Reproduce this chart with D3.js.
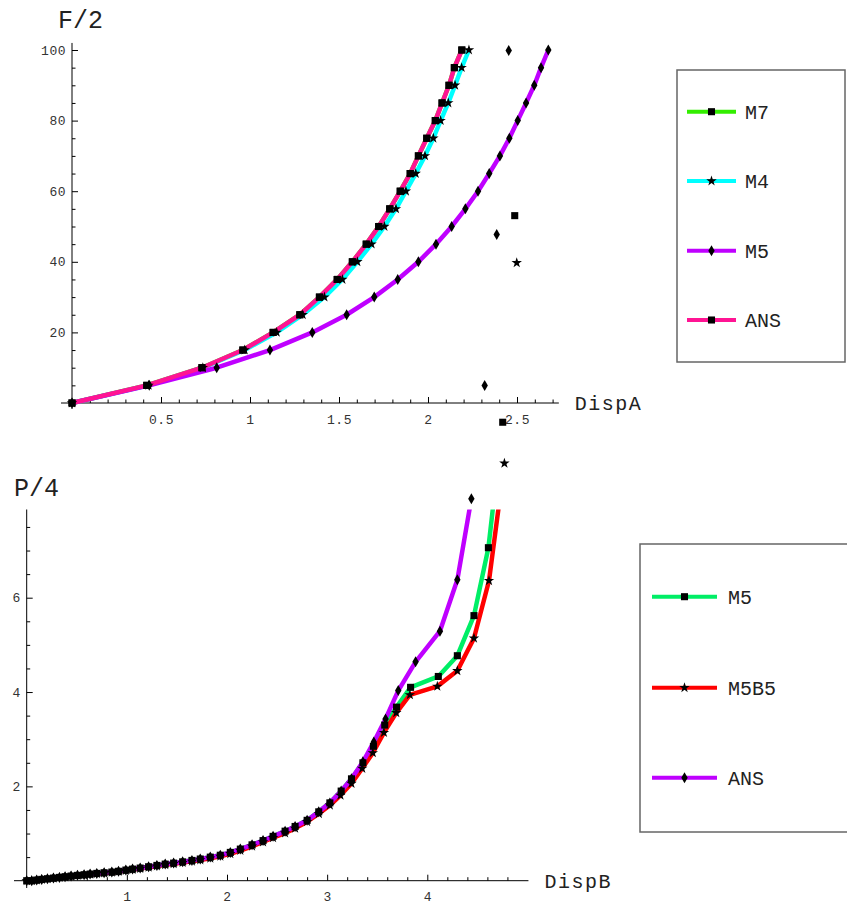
<!DOCTYPE html>
<meta charset="utf-8">
<style>
body { margin: 0; background: #fff; }
text { font-family: "Liberation Mono", "DejaVu Sans Mono", monospace; fill: #222; }
.axis text { font-size: 13px; fill: #333; letter-spacing: 0.5px; }
.axis line { stroke: #000; }
.axis-line { stroke: #000; stroke-width: 1; }
.series { fill: none; stroke-width: 4.5; stroke-linejoin: round; }
.legend-box { fill: none; stroke: #666; stroke-width: 1.5; }
.legend-line { stroke-width: 4; }
.legend text { font-size: 20px; }
.title { font-size: 25px; }
.xlabel { font-size: 20px; letter-spacing: 1.5px; }
</style>
<body>
<div id="chart"></div>
<script src="https://d3js.org/d3.v7.min.js"></script>
<script>

// ---- top chart: F/2 against DispA ----
var loadA = [0, 5, 10, 15, 20, 25, 30, 35, 40, 45, 50, 55, 60, 65, 70, 75, 80, 85, 90, 95, 100];
var dispA_M7  = [0, 0.42, 0.73, 0.96, 1.13, 1.28, 1.39, 1.49, 1.575, 1.653, 1.723, 1.785, 1.844, 1.90, 1.946, 1.993, 2.041, 2.079, 2.118, 2.148, 2.19];
var dispA_M4  = [0, 0.43, 0.735, 0.97, 1.15, 1.296, 1.418, 1.519, 1.603, 1.683, 1.755, 1.82, 1.876, 1.931, 1.983, 2.03, 2.071, 2.114, 2.152, 2.189, 2.23];
var dispA_M5  = [0, 0.434, 0.813, 1.112, 1.35, 1.543, 1.698, 1.83, 1.946, 2.045, 2.133, 2.21, 2.281, 2.344, 2.404, 2.457, 2.504, 2.551, 2.597, 2.635, 2.676];
var dispA_ANS = [0, 0.42, 0.73, 0.96, 1.13, 1.28, 1.39, 1.49, 1.575, 1.653, 1.723, 1.785, 1.844, 1.90, 1.946, 1.993, 2.041, 2.079, 2.118, 2.148, 2.19];

var ticksA_x = [0.5, 1, 1.5, 2, 2.5];
var ticksA_y = [20, 40, 60, 80, 100];

// ---- bottom chart: P/4 against DispB ----
var dispB_M5 = [0, 0.05, 0.10, 0.15, 0.207, 0.267, 0.327, 0.383, 0.443, 0.507, 0.573, 0.633, 0.70, 0.773, 0.85, 0.917, 0.99, 1.057, 1.133, 1.217, 1.30, 1.383, 1.467, 1.557, 1.65, 1.733, 1.833, 1.933, 2.033, 2.133, 2.25, 2.36, 2.46, 2.58, 2.68, 2.80, 2.916, 3.027, 3.14, 3.243, 3.357, 3.462, 3.575, 3.693, 3.833, 4.11, 4.30, 4.466, 4.61, 4.753, 4.873];
var loadB_M5 = [0, 0, 0.014, 0.028, 0.042, 0.056, 0.07, 0.085, 0.099, 0.113, 0.127, 0.141, 0.155, 0.169, 0.183, 0.2, 0.225, 0.246, 0.268, 0.296, 0.324, 0.352, 0.373, 0.4, 0.43, 0.46, 0.5, 0.54, 0.6, 0.67, 0.76, 0.85, 0.94, 1.05, 1.15, 1.28, 1.46, 1.65, 1.90, 2.16, 2.5, 2.85, 3.3, 3.68, 4.10, 4.33, 4.77, 5.62, 7.06, 9.72, 14.1];
var dispB_M5B5 = [0, 0.05, 0.10, 0.15, 0.207, 0.267, 0.327, 0.383, 0.443, 0.507, 0.573, 0.633, 0.70, 0.773, 0.85, 0.917, 0.99, 1.057, 1.133, 1.217, 1.30, 1.383, 1.467, 1.557, 1.65, 1.733, 1.833, 1.933, 2.033, 2.133, 2.25, 2.36, 2.46, 2.58, 2.68, 2.80, 2.917, 3.027, 3.133, 3.243, 3.35, 3.456, 3.567, 3.69, 3.826, 4.10, 4.30, 4.466, 4.616, 4.77, 4.893];
var loadB_M5B5 = [0, 0, 0.012, 0.025, 0.038, 0.052, 0.066, 0.08, 0.094, 0.108, 0.12, 0.134, 0.148, 0.162, 0.176, 0.192, 0.215, 0.236, 0.257, 0.284, 0.31, 0.337, 0.358, 0.383, 0.41, 0.44, 0.475, 0.515, 0.57, 0.64, 0.73, 0.82, 0.91, 1.01, 1.11, 1.25, 1.42, 1.60, 1.81, 2.06, 2.38, 2.71, 3.14, 3.56, 3.94, 4.12, 4.45, 5.14, 6.36, 8.85, 13.1];
var dispB_ANS = [0, 0.05, 0.10, 0.15, 0.207, 0.267, 0.327, 0.383, 0.443, 0.507, 0.573, 0.633, 0.70, 0.773, 0.85, 0.917, 0.99, 1.057, 1.133, 1.217, 1.30, 1.383, 1.467, 1.557, 1.65, 1.733, 1.833, 1.933, 2.033, 2.133, 2.25, 2.36, 2.46, 2.58, 2.68, 2.80, 2.916, 3.027, 3.14, 3.243, 3.357, 3.466, 3.583, 3.71, 3.883, 4.126, 4.30, 4.44, 4.573, 4.693, 4.813];
var loadB_ANS = [0, 0, 0.014, 0.028, 0.042, 0.056, 0.07, 0.085, 0.099, 0.113, 0.127, 0.141, 0.155, 0.169, 0.183, 0.2, 0.225, 0.246, 0.268, 0.296, 0.324, 0.352, 0.373, 0.4, 0.43, 0.46, 0.5, 0.54, 0.6, 0.67, 0.76, 0.85, 0.94, 1.05, 1.15, 1.28, 1.46, 1.65, 1.90, 2.16, 2.52, 2.94, 3.43, 4.03, 4.64, 5.29, 6.38, 8.10, 10.5, 13.7, 17.6];

var ticksB_x = [1, 2, 3, 4];
var ticksB_y = [2, 4, 6];

var W = 847, H = 904;
var svg = d3.select("#chart").append("svg").attr("width", W).attr("height", H);

// marker shapes
var sq = d3.symbol().type(d3.symbolSquare).size(50)();
var star = d3.symbol().type(d3.symbolStar).size(34)();
var diamond = "M0,-5.5L3.2,0L0,5.5L-3.2,0Z";

var plain = function(d) { return String(d); };

function zip(xs, ys) { return xs.map(function(v, i) { return [v, ys[i]]; }); }

function drawChart(cfg) {
  var g = svg.append("g");
  var x = cfg.x, y = cfg.y;

  // axis lines
  g.append("line").attr("class", "axis-line")
    .attr("x1", cfg.xAxisFrom).attr("x2", x(cfg.xEnd))
    .attr("y1", y(0)).attr("y2", y(0));
  g.append("line").attr("class", "axis-line")
    .attr("x1", x(0)).attr("x2", x(0))
    .attr("y1", cfg.yAxisFrom).attr("y2", y(cfg.yEnd));

  // minor ticks
  g.append("g").attr("class", "axis")
    .attr("transform", "translate(0," + y(0) + ")")
    .call(d3.axisBottom(x).tickValues(cfg.minorX).tickSize(-3.5).tickFormat(""))
    .call(function(s) { s.select(".domain").remove(); });
  g.append("g").attr("class", "axis")
    .attr("transform", "translate(" + x(0) + ",0)")
    .call(d3.axisLeft(y).tickValues(cfg.minorY).tickSize(-3.5).tickFormat(""))
    .call(function(s) { s.select(".domain").remove(); });

  // major ticks with labels
  g.append("g").attr("class", "axis")
    .attr("transform", "translate(0," + y(0) + ")")
    .call(d3.axisBottom(x).tickValues(cfg.ticksX).tickSize(-6).tickPadding(cfg.padX).tickFormat(plain))
    .call(function(s) { s.select(".domain").remove(); });
  g.append("g").attr("class", "axis")
    .attr("transform", "translate(" + x(0) + ",0)")
    .call(d3.axisLeft(y).tickValues(cfg.ticksY).tickSize(-6).tickPadding(6).tickFormat(plain))
    .call(function(s) { s.select(".domain").remove(); });

  // clip for lines
  var clipId = cfg.id + "-clip";
  svg.append("clipPath").attr("id", clipId).append("rect")
    .attr("x", 0).attr("y", y(cfg.yEnd))
    .attr("width", W).attr("height", H);

  var line = d3.line().x(function(d) { return x(d[0]); }).y(function(d) { return y(d[1]); });

  cfg.series.forEach(function(s) {
    g.append("path").attr("class", "series")
      .attr("clip-path", "url(#" + clipId + ")")
      .attr("stroke", s.color)
      .attr("d", line(s.pts));
  });
  cfg.series.forEach(function(s) {
    g.selectAll(null).data(s.pts).enter().append("path")
      .attr("d", s.shape).attr("fill", "#000")
      .attr("transform", function(d) { return "translate(" + x(d[0]) + "," + y(d[1]) + ")"; });
  });

  // axis titles
  g.append("text").attr("class", "title").attr("x", cfg.titlePos[0]).attr("y", cfg.titlePos[1]).text(cfg.title);
  g.append("text").attr("class", "xlabel").attr("x", x(cfg.xEnd) + cfg.xlabelGap).attr("y", y(0) + 7).text(cfg.xlabel);

  // legend
  var lg = svg.append("g").attr("class", "legend");
  lg.append("rect").attr("class", "legend-box")
    .attr("x", cfg.legend.x).attr("y", cfg.legend.y)
    .attr("width", cfg.legend.w).attr("height", cfg.legend.h);
  cfg.series.forEach(function(s, i) {
    var ly = cfg.legend.rows[i];
    lg.append("line").attr("class", "legend-line")
      .attr("x1", cfg.legend.lx).attr("x2", cfg.legend.lx + cfg.legend.len)
      .attr("y1", ly).attr("y2", ly).attr("stroke", s.color);
    lg.append("path").attr("d", s.shape).attr("fill", "#000")
      .attr("transform", "translate(" + (cfg.legend.lx + cfg.legend.len / 2) + "," + ly + ")");
    lg.append("text").attr("x", cfg.legend.tx).attr("y", ly).attr("dy", "0.35em").text(s.name);
  });
}

var xA = d3.scaleLinear().domain([0, 2.5]).range([72, 517]);
var yA = d3.scaleLinear().domain([0, 100]).range([403, 50]);

drawChart({
  id: "a", x: xA, y: yA, xEnd: 2.735, yEnd: 102,
  xAxisFrom: 61, yAxisFrom: 409,
  ticksX: ticksA_x, ticksY: ticksA_y, padX: 12,
  minorX: d3.range(1, 28).map(function(i) { return i / 10; }).filter(function(v) { return ticksA_x.indexOf(v) < 0; }),
  minorY: d3.range(1, 21).map(function(i) { return i * 5; }).filter(function(v) { return ticksA_y.indexOf(v) < 0; }),
  title: "F/2", titlePos: [58, 28],
  xlabel: "DispA", xlabelGap: 16,
  series: [
    { name: "M7",  color: "#33ee00", shape: sq,      pts: zip(dispA_M7, loadA) },
    { name: "M4",  color: "#00ffff", shape: star,    pts: zip(dispA_M4, loadA) },
    { name: "M5",  color: "#bf00ff", shape: diamond, pts: zip(dispA_M5, loadA) },
    { name: "ANS", color: "#ff1493", shape: sq,      pts: zip(dispA_ANS, loadA) }
  ],
  legend: { x: 677, y: 70, w: 168, h: 292, lx: 687, len: 49, tx: 745, rows: [111.7, 181, 250.7, 320] }
});

var xB = d3.scaleLinear().domain([0, 4]).range([26.7, 427.3]);
var yB = d3.scaleLinear().domain([0, 6]).range([880.7, 597.7]);

drawChart({
  id: "b", x: xB, y: yB, xEnd: 5.01, yEnd: 7.87,
  xAxisFrom: 14, yAxisFrom: 888,
  ticksX: ticksB_x, ticksY: ticksB_y, padX: 11,
  minorX: d3.range(1, 25).map(function(i) { return i / 5; }).filter(function(v) { return ticksB_x.indexOf(v) < 0; }),
  minorY: d3.range(1, 16).map(function(i) { return i / 2; }).filter(function(v) { return ticksB_y.indexOf(v) < 0; }),
  title: "P/4", titlePos: [14, 496],
  xlabel: "DispB", xlabelGap: 16,
  series: [
    { name: "M5",   color: "#00ee66", shape: sq,      pts: zip(dispB_M5, loadB_M5) },
    { name: "M5B5", color: "#ff0000", shape: star,    pts: zip(dispB_M5B5, loadB_M5B5) },
    { name: "ANS",  color: "#bf00ff", shape: diamond, pts: zip(dispB_ANS, loadB_ANS) }
  ],
  legend: { x: 640, y: 544, w: 215, h: 288, lx: 652, len: 65, tx: 728, rows: [596.7, 687.7, 777.7] }
});

</script>
</body>
